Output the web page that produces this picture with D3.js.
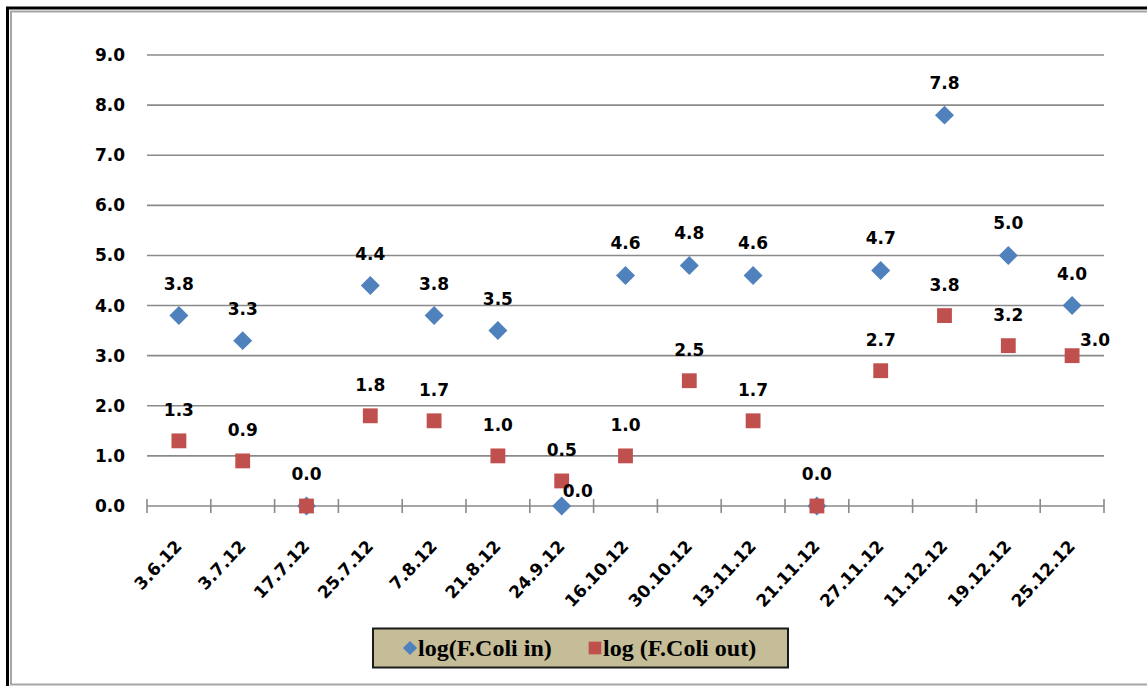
<!DOCTYPE html>
<html>
<head>
<meta charset="utf-8">
<script src="https://cdn.jsdelivr.net/npm/d3@7"></script>
<style>
  html, body { margin: 0; padding: 0; background: #fff; }
  svg { display: block; }
  .tick-label { font-family: "DejaVu Sans", sans-serif; font-weight: bold; font-size: 17px; fill: #000; }
  .legend-text { font-family: "Liberation Serif", "Times New Roman", serif; font-weight: bold; font-size: 24px; fill: #000; }
</style>
</head>
<body>
<script>
// Sampling dates
const dates = ["3.6.12", "3.7.12", "17.7.12", "25.7.12", "7.8.12", "21.8.12", "24.9.12",
               "16.10.12", "30.10.12", "13.11.12", "21.11.12", "27.11.12", "11.12.12",
               "19.12.12", "25.12.12"];

// log10 of faecal coliform counts, inlet and outlet
const logIn  = [3.8, 3.3, 0.0, 4.4, 3.8, 3.5, 0.0, 4.6, 4.8, 4.6, 0.0, 4.7, 7.8, 5.0, 4.0];
const logOut = [1.3, 0.9, 0.0, 1.8, 1.7, 1.0, 0.5, 1.0, 2.5, 1.7, 0.0, 2.7, 3.8, 3.2, 3.0];

// Y axis ticks
const yTicks = [0, 1, 2, 3, 4, 5, 6, 7, 8, 9];

const seriesNames = ["log(F.Coli in)", "log (F.Coli out)"];

const W = 1147, H = 686;
const plot = { left: 147, right: 1104, top: 55, bottom: 506 };

const svg = d3.select("body").append("svg")
  .attr("width", W).attr("height", H);

// Outer frame (double border, running off the right and bottom edges)
svg.append("rect")
  .attr("x", 7.5).attr("y", 8)
  .attr("width", 1300).attr("height", 700)
  .attr("fill", "none").attr("stroke", "#000").attr("stroke-width", 3);
svg.append("rect")
  .attr("x", 11).attr("y", 11.5)
  .attr("width", 1300).attr("height", 684.5 - 11.5)
  .attr("fill", "none").attr("stroke", "#a6a6a6").attr("stroke-width", 2);

const x = d3.scaleBand().domain(dates).range([plot.left, plot.right]);
const y = d3.scaleLinear().domain([0, 9]).range([plot.bottom, plot.top]);
const cx = d => x(d) + x.bandwidth() / 2;

// Horizontal gridlines
svg.append("g").selectAll("line")
  .data(yTicks.filter(t => t > 0))
  .join("line")
  .attr("x1", plot.left).attr("x2", plot.right)
  .attr("y1", d => y(d)).attr("y2", d => y(d))
  .attr("stroke", "#8a8a8a").attr("stroke-width", 1.6);

// Y axis labels
const yAxis = svg.append("g")
  .attr("transform", `translate(${plot.left},0)`)
  .call(d3.axisLeft(y).tickValues(yTicks).tickFormat(d3.format(".1f")).tickSize(0).tickPadding(22));
yAxis.select(".domain").remove();
yAxis.selectAll("text").attr("class", "tick-label").attr("font-size", null).attr("font-family", null);

// X axis line with crossing tick marks at category boundaries
const xAxis = svg.append("g").attr("transform", `translate(0,${plot.bottom})`);
xAxis.append("line")
  .attr("x1", plot.left).attr("x2", plot.right)
  .attr("stroke", "#8a8a8a").attr("stroke-width", 1.6);
const boundaries = dates.map(d => x(d)).concat([x(dates[dates.length - 1]) + x.bandwidth()]);
xAxis.selectAll("line.tk")
  .data(boundaries)
  .join("line").attr("class", "tk")
  .attr("x1", d => d).attr("x2", d => d)
  .attr("y1", -7).attr("y2", 7)
  .attr("stroke", "#8a8a8a").attr("stroke-width", 1.6);

// Rotated category labels
svg.append("g").selectAll("text")
  .data(dates)
  .join("text")
  .attr("class", "tick-label")
  .attr("text-anchor", "end")
  .attr("transform", d => `translate(${cx(d) + 4},${plot.bottom + 41}) rotate(-47)`)
  .text(d => d);

// Markers
const diamond = d3.symbol().type(d3.symbolSquare).size(180);
const square = d3.symbol().type(d3.symbolSquare).size(220);

const inColor = "#4f81bd", outColor = "#c0504d";

svg.append("g").selectAll("path")
  .data(dates.map((d, i) => ({ d, v: logIn[i] })))
  .join("path")
  .attr("d", diamond)
  .attr("fill", inColor)
  .attr("transform", p => `translate(${cx(p.d)},${y(p.v)}) rotate(45)`);

svg.append("g").selectAll("path")
  .data(dates.map((d, i) => ({ d, v: logOut[i] })))
  .join("path")
  .attr("d", square)
  .attr("fill", outColor)
  .attr("transform", p => `translate(${cx(p.d)},${y(p.v)})`);

// Value labels; a couple are nudged to the right to avoid overlapping neighbours
const inShift = { "24.9.12": [16, -9] };
const outShift = { "25.12.12": [23, -10] };

function labels(values, shift, dyDefault, skip) {
  svg.append("g").selectAll("text")
    .data(dates.map((d, i) => ({ d, v: values[i], i })).filter(p => !skip || !skip(p)))
    .join("text")
    .attr("class", "tick-label")
    .attr("text-anchor", "middle")
    .attr("x", p => cx(p.d) + (shift[p.d] ? shift[p.d][0] : 0))
    .attr("y", p => y(p.v) + (shift[p.d] ? shift[p.d][1] : dyDefault))
    .text(p => d3.format(".1f")(p.v));
}
labels(logIn, inShift, -26);
// Where both series sit on the same spot, a single label serves for both
labels(logOut, outShift, -25, p => p.v === logIn[p.i] && !inShift[p.d]);

// Legend
const lg = svg.append("g");
lg.append("rect")
  .attr("x", 373).attr("y", 628.5).attr("width", 415).attr("height", 39)
  .attr("fill", "#c4bd97").attr("stroke", "#1a1a1a").attr("stroke-width", 2);
lg.append("path")
  .attr("d", d3.symbol().type(d3.symbolSquare).size(100))
  .attr("fill", inColor)
  .attr("transform", "translate(410,648) rotate(45)");
lg.append("text").attr("class", "legend-text").attr("x", 418).attr("y", 656).text(seriesNames[0]);
lg.append("path")
  .attr("d", d3.symbol().type(d3.symbolSquare).size(160))
  .attr("fill", outColor)
  .attr("transform", "translate(595,648)");
lg.append("text").attr("class", "legend-text").attr("x", 603).attr("y", 656).text(seriesNames[1]);
</script>
</body>
</html>
